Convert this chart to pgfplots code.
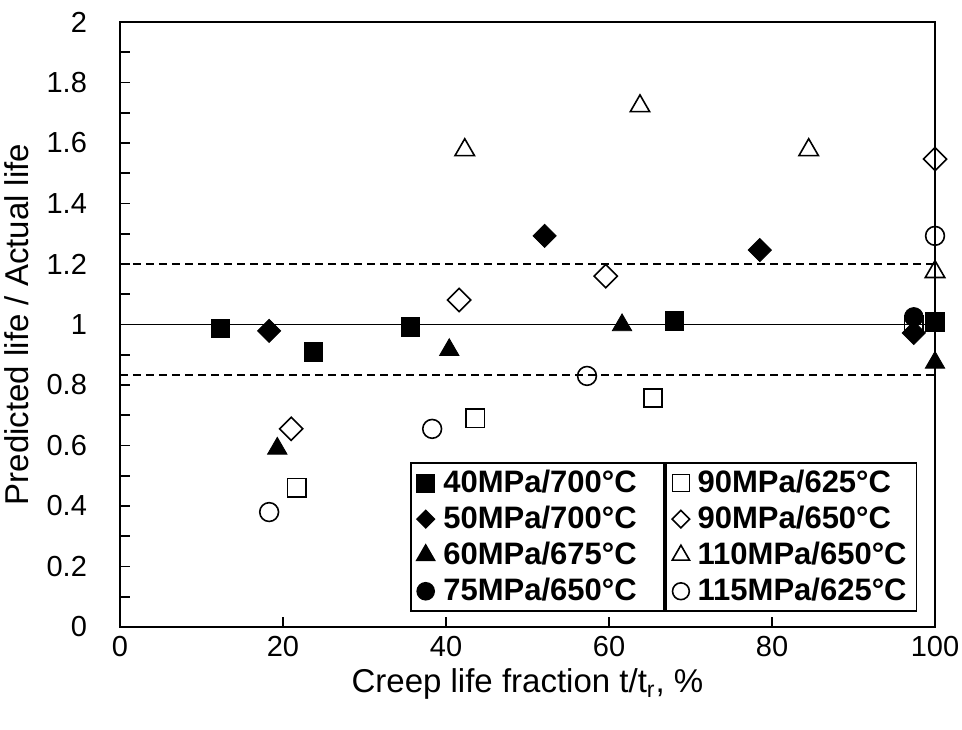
\documentclass[border=0pt]{standalone}
\usepackage{pgfplots}
\pgfplotsset{compat=1.18}
\usepackage{fontspec}
\setmainfont{Liberation Sans}
\usetikzlibrary{calc}
\begin{document}
\begin{tikzpicture}
\pgfplotsset{
  common/.style={
    width=407.5pt, height=302.5pt, scale only axis,
    xmin=0, xmax=100, ymin=0, ymax=2,
  },
  leg/.style={
    legend style={font=\bfseries\fontsize{15.5}{17}\selectfont, draw=black, line width=0.9pt,
      inner xsep=3pt, inner ysep=1.5pt, row sep=1.3pt, cells={anchor=west}},
  }
}
\begin{axis}[common, name=ax, leg,
  xtick={0,20,40,60,80,100},
  ytick={0,0.2,0.4,0.6,0.8,1,1.2,1.4,1.6,1.8,2},
  minor ytick={0.1,0.3,0.5,0.7,0.9,1.1,1.3,1.5,1.7,1.9},
  tick align=inside, xtick pos=bottom, ytick pos=left,
  major tick length=5pt, minor tick length=5pt,
  every tick/.style={black, line width=0.8pt},
  axis line style={line width=1pt},
  ticklabel style={font=\fontsize{14.5}{16}\selectfont},
  /pgf/number format/assume math mode=true,
  yticklabel style={xshift=-13pt},
  xticklabel style={yshift=-1pt},
  label style={font=\fontsize{16.5}{18}\selectfont},
  xlabel={Creep life fraction t/t\textsubscript{r}, \%},
  ylabel={Predicted life / Actual life},
  xlabel style={yshift=1pt},
  ylabel style={yshift=2pt},
  legend style={at={(0.669,0.025)}, anchor=south east},
]
\addplot[black, line width=0.75pt, forget plot] coordinates {(0,1) (100,1)};
\addplot[black, line width=0.75pt, dash pattern=on 4pt off 2.5pt, forget plot] coordinates {(0,1.2) (100,1.2)};
\addplot[black, line width=0.75pt, dash pattern=on 4pt off 2.5pt, forget plot] coordinates {(0,0.833) (100,0.833)};
% 40MPa/700
\addplot[only marks, mark=square*, mark size=4.6pt, black, legend image post style={mark size=4.3pt}] coordinates {
(12.3,0.988) (23.7,0.909) (35.6,0.992) (68.0,1.012) (100,1.008)};
\addlegendentry{\makebox[108pt][l]{\hspace{2.5pt}40MPa/700°C}}
% 50MPa/700
\addplot[only marks, mark=square*, mark size=4.1pt, black, mark options={rotate=45}, legend image post style={mark size=3pt}] coordinates {
(18.3,0.979) (52.1,1.293) (78.5,1.246) (97.4,0.972)};
\addlegendentry{\makebox[108pt][l]{\hspace{2.5pt}50MPa/700°C}}
% 60MPa/675
\addplot[only marks, mark=triangle*, mark size=5.6pt, black, legend image post style={mark size=5pt}] coordinates {
(19.3,0.59) (40.4,0.916) (61.6,0.998) (100,0.874)};
\addlegendentry{\makebox[108pt][l]{\hspace{2.5pt}60MPa/675°C}}
% 75MPa/650
\addplot[only marks, mark=*, mark size=4.7pt, black, legend image post style={mark size=4.2pt}] coordinates {
(97.4,1.025)};
\addlegendentry{\makebox[108pt][l]{\hspace{2.5pt}75MPa/650°C}}
\end{axis}
\begin{axis}[common, hide axis, leg,
  legend style={at={(0.669,0.025)}, anchor=south west},
]
% 90MPa/625
\addplot[only marks, mark=square, mark size=4.6pt, black, mark options={line width=0.8pt, fill=white}, legend image post style={mark size=4.2pt, line width=0.5pt}] coordinates {
(21.7,0.46) (43.6,0.69) (65.4,0.757) (97.4,1.0)};
\addlegendentry{\hspace{2pt}90MPa/625°C}
% 90MPa/650
\addplot[only marks, mark=square, mark size=4.1pt, black, mark options={line width=0.8pt, fill=white, rotate=45}, legend image post style={mark size=3.1pt, line width=0.5pt}] coordinates {
(21.0,0.655) (41.6,1.081) (59.6,1.16) (100,1.547)};
\addlegendentry{\hspace{2pt}90MPa/650°C}
% 110MPa/650
\addplot[only marks, mark=triangle, mark size=5.6pt, black, mark options={line width=0.8pt, fill=white}, legend image post style={mark size=5pt, line width=0.5pt}] coordinates {
(42.3,1.577) (63.8,1.722) (84.5,1.577) (100,1.174)};
\addlegendentry{\hspace{2pt}110MPa/650°C}
% 115MPa/625
\addplot[only marks, mark=o, mark size=4.7pt, black, mark options={line width=0.8pt, fill=white}, legend image post style={mark size=4.2pt, line width=0.5pt}] coordinates {
(18.3,0.38) (38.3,0.655) (57.3,0.83) (100,1.293)};
\addlegendentry{\hspace{2pt}115MPa/625°C}
\end{axis}
\pgfresetboundingbox
\path ($(ax.south west)+(-60pt,-51pt)$) rectangle ($(ax.north east)+(13.5pt,11pt)$);
\end{tikzpicture}
\end{document}
